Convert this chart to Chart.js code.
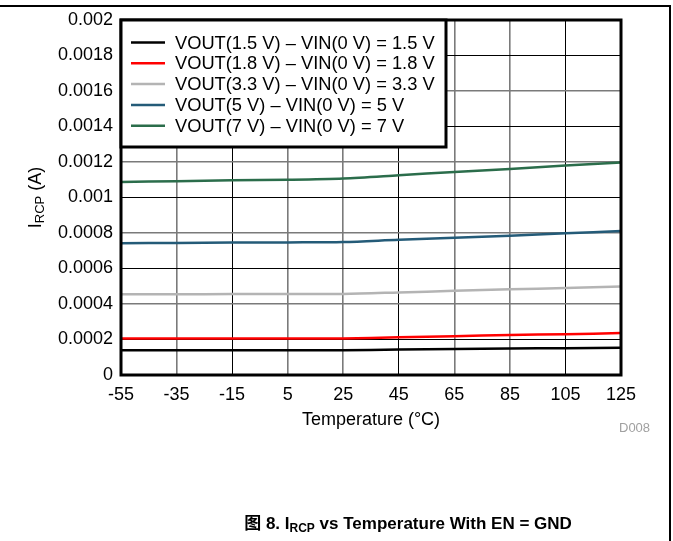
<!DOCTYPE html>
<html>
<head>
<meta charset="utf-8">
<script src="https://cdn.jsdelivr.net/npm/chart.js@4.4.1/dist/chart.umd.min.js"></script>
<style>
  html, body { margin: 0; padding: 0; background: #fff; }
  #wrap { position: relative; width: 673px; height: 541px; overflow: hidden; }
  #c { position: absolute; left: 0; top: 0; }
  #frame { position: absolute; left: 0; top: 5px; width: 669px; height: 540px;
           border-top: 2px solid #000; border-right: 2px solid #000; }
  #d008 { position: absolute; left: 619px; top: 420px; font: 13px "Liberation Sans", Arial, sans-serif; color: #a0a0a0; }
  #cap { position: absolute; left: 0; width: 816px; text-align: center; top: 509px;
         font: bold 17px "Liberation Sans", Arial, "Noto Sans CJK SC", sans-serif; color: #000; white-space: nowrap; }
  #cap sub { font-size: 12px; vertical-align: -3px; line-height: 0; }
</style>
</head>
<body>
<div id="wrap">
  <canvas id="c" width="673" height="541"></canvas>
  <div id="frame"></div>
  <div id="d008">D008</div>
  <div id="cap"><span style="font-family:'Noto Sans CJK SC'">图</span> 8. I<sub>RCP</sub> vs Temperature With EN = GND</div>
</div>
<script>
// ---- data ----
const temperatures = [-55, -35, -15, 5, 25, 45, 65, 85, 105, 125];
const seriesNames = [
  'VOUT(1.5 V) \u2013 VIN(0 V) = 1.5 V',
  'VOUT(1.8 V) \u2013 VIN(0 V) = 1.8 V',
  'VOUT(3.3 V) \u2013 VIN(0 V) = 3.3 V',
  'VOUT(5 V) \u2013 VIN(0 V) = 5 V',
  'VOUT(7 V) \u2013 VIN(0 V) = 7 V'
];
const ircp15 = [0.000139, 0.000139, 0.000139, 0.000140, 0.000140, 0.000143, 0.000146, 0.000149, 0.000151, 0.000153];
const ircp18 = [0.000206, 0.000206, 0.000206, 0.000206, 0.000206, 0.000212, 0.000219, 0.000225, 0.000230, 0.000236];
const ircp33 = [0.000455, 0.000455, 0.000456, 0.000456, 0.000457, 0.000465, 0.000474, 0.000483, 0.000490, 0.000498];
const ircp5  = [0.000742, 0.000744, 0.000746, 0.000747, 0.000749, 0.000762, 0.000773, 0.000785, 0.000798, 0.000811];
const ircp7  = [0.001088, 0.001092, 0.001097, 0.001100, 0.001107, 0.001125, 0.001144, 0.001161, 0.001180, 0.001197];
const xTicks = [-55, -35, -15, 5, 25, 45, 65, 85, 105, 125];
const yTicks = [0, 0.0002, 0.0004, 0.0006, 0.0008, 0.001, 0.0012, 0.0014, 0.0016, 0.0018, 0.002];

const seriesValues = [ircp15, ircp18, ircp33, ircp5, ircp7];
const seriesColors = ['#000000', '#ff0000', '#b4b4b4', '#245b78', '#2b6d4b'];

const FONT = '"Liberation Sans", Arial, sans-serif';

const datasets = seriesValues.map((vals, i) => ({
  label: seriesNames[i],
  data: temperatures.map((t, j) => ({ x: t, y: vals[j] })),
  borderColor: seriesColors[i],
  backgroundColor: seriesColors[i],
  borderWidth: 2.5,
  pointRadius: 0,
  tension: 0.3,
  fill: false
}));

const framePlugin = {
  id: 'framePlugin',
  afterDatasetsDraw(chart) {
    const ctx = chart.ctx, a = chart.chartArea;
    ctx.save();
    ctx.strokeStyle = '#000';
    ctx.lineWidth = 3;
    ctx.strokeRect(a.left, a.top, a.right - a.left, a.bottom - a.top);

    // legend box
    const bx = a.left, by = a.top, bw = 446 - a.left, bh = 147 - a.top;
    ctx.fillStyle = '#fff';
    ctx.fillRect(bx, by, bw, bh);
    ctx.strokeRect(bx, by, bw, bh);
    ctx.font = '18.3px ' + FONT;
    ctx.textBaseline = 'middle';
    ctx.textAlign = 'left';
    chart.data.datasets.forEach((ds, i) => {
      const y = 42.5 + i * 20.8;
      ctx.strokeStyle = ds.borderColor;
      ctx.lineWidth = 2.5;
      ctx.beginPath();
      ctx.moveTo(131, y);
      ctx.lineTo(165, y);
      ctx.stroke();
      ctx.fillStyle = '#000';
      ctx.fillText(ds.label, 175, y + 1);
    });

    // y axis title with subscript
    const cx = 35, cy = (a.top + a.bottom) / 2;
    ctx.translate(cx, cy);
    ctx.rotate(-Math.PI / 2);
    const f1 = '18px ' + FONT, f2 = '13px ' + FONT;
    ctx.font = f1; const w1 = ctx.measureText('I').width;
    ctx.font = f2; const w2 = ctx.measureText('RCP').width;
    ctx.font = f1; const w3 = ctx.measureText(' (A)').width;
    let x0 = -(w1 + w2 + w3) / 2;
    ctx.fillStyle = '#000';
    ctx.textBaseline = 'alphabetic';
    ctx.font = f1; ctx.fillText('I', x0, 6);
    ctx.font = f2; ctx.fillText('RCP', x0 + w1, 9);
    ctx.font = f1; ctx.fillText(' (A)', x0 + w1 + w2, 6);
    ctx.restore();
  }
};

new Chart(document.getElementById('c'), {
  type: 'line',
  data: { datasets },
  options: {
    responsive: false,
    animation: false,
    devicePixelRatio: 1,
    layout: { padding: { left: 0, top: 20, right: 52, bottom: 106 } },
    plugins: { legend: { display: false }, tooltip: { enabled: false } },
    scales: {
      x: {
        type: 'linear',
        min: xTicks[0],
        max: xTicks[xTicks.length - 1],
        afterBuildTicks: (s) => { s.ticks = xTicks.map(v => ({ value: v })); },
        afterFit: (s) => { s.height = 60; },
        ticks: { color: '#000', font: { family: FONT, size: 18 }, padding: 9, maxRotation: 0, autoSkip: false },
        grid: {
          drawTicks: false,
          color: (c) => (c.index % 3 === 2 ? '#000' : '#7a7a7a'),
          lineWidth: (c) => (c.index % 3 === 2 ? 1 : 1.6)
        },
        border: { display: false },
        title: { display: true, text: 'Temperature (\u00B0C)', color: '#000', font: { family: FONT, size: 18 }, padding: { top: 2, bottom: 4 } }
      },
      y: {
        min: 0,
        max: yTicks[yTicks.length - 1],
        afterBuildTicks: (s) => { s.ticks = yTicks.map(v => ({ value: v })); },
        afterFit: (s) => { s.width = 121; },
        ticks: {
          color: '#000', font: { family: FONT, size: 18 }, padding: 8,
          callback: (v) => String(Number(v.toFixed(4)))
        },
        grid: {
          drawTicks: false,
          color: (c) => (c.index % 2 === 0 ? '#7a7a7a' : '#000'),
          lineWidth: (c) => (c.index % 2 === 0 ? 1.6 : 1)
        },
        border: { display: false }
      }
    }
  },
  plugins: [framePlugin]
});
</script>
</body>
</html>
